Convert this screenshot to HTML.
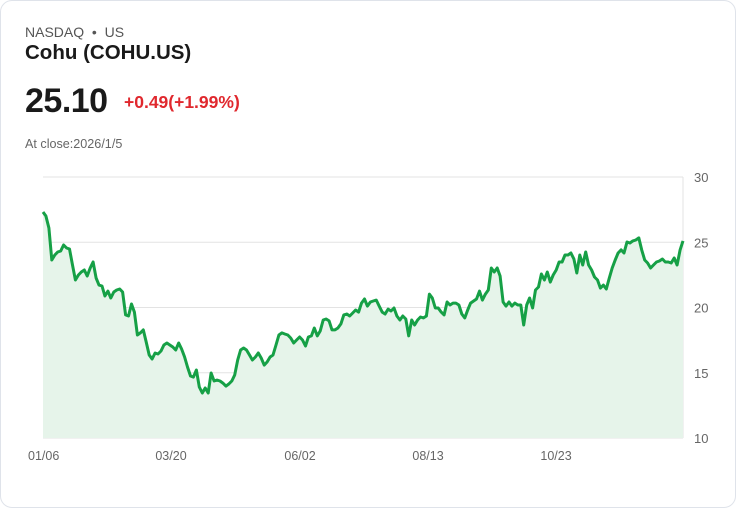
<!DOCTYPE html>
<html><head><meta charset="utf-8"><style>
body{margin:0;background:#fff;font-family:"Liberation Sans",sans-serif;}
.card{position:absolute;left:0;top:0;width:734px;height:506px;border:1px solid #dfe3ea;border-radius:12px;background:#fff;}
.t{position:absolute;white-space:nowrap;}
</style></head><body>
<div class="card">
<div class="t" style="left:24px;top:23px;font-size:14px;color:#555;">NASDAQ &nbsp;•&nbsp; US</div>
<div class="t" style="left:24px;top:40px;font-size:20.5px;font-weight:bold;color:#1a1a1a;">Cohu (COHU.US)</div>
<div class="t" style="left:24px;top:81px;font-size:34px;font-weight:bold;color:#1a1a1a;letter-spacing:-0.5px;">25.10</div>
<div class="t" style="left:123px;top:91px;font-size:17.5px;font-weight:bold;color:#e0282e;">+0.49(+1.99%)</div>
<div class="t" style="left:24px;top:136px;font-size:12.6px;color:#666;">At close:2026/1/5</div>
<svg id="chart" width="736" height="508" style="position:absolute;left:-1px;top:-1px;"></svg>
</div>
<script>
const values=[27.32,27.01,26.09,23.64,24.02,24.25,24.33,24.79,24.56,24.48,23.26,22.11,22.49,22.72,22.87,22.41,23.03,23.49,22.26,21.72,21.65,20.88,21.26,20.73,21.19,21.34,21.42,21.19,19.43,19.35,20.27,19.65,17.89,18.05,18.28,17.36,16.36,16.05,16.51,16.44,16.67,17.13,17.28,17.13,16.97,16.74,17.28,16.82,16.21,15.44,14.75,14.67,15.21,13.91,13.45,13.83,13.45,14.98,14.37,14.44,14.37,14.21,13.98,14.14,14.37,14.83,15.98,16.74,16.90,16.74,16.36,15.98,16.21,16.51,16.13,15.59,15.82,16.21,16.36,17.13,17.89,18.05,17.97,17.89,17.66,17.28,17.51,17.74,17.51,17.05,17.74,17.82,18.43,17.82,18.20,19.04,19.12,18.97,18.28,18.28,18.43,18.74,19.43,19.50,19.35,19.58,19.81,19.65,20.34,20.65,20.11,20.42,20.50,20.57,20.11,19.65,19.50,19.88,19.73,19.96,19.35,19.04,19.35,19.12,17.82,19.04,18.66,19.04,19.27,19.20,19.35,21.03,20.73,19.96,19.96,19.65,19.43,20.42,20.19,20.34,20.34,20.19,19.50,19.20,19.81,20.34,20.50,20.65,21.26,20.57,21.03,21.34,23.03,22.72,23.03,22.41,20.42,20.11,20.42,20.11,20.34,20.19,20.19,18.66,20.19,20.73,19.96,21.34,21.57,22.57,22.11,22.72,21.95,22.49,22.87,23.49,23.49,24.02,24.02,24.18,23.72,22.64,24.02,23.26,24.25,23.26,22.87,22.34,22.11,21.49,21.72,21.42,22.26,23.03,23.64,24.18,24.41,24.18,25.02,24.94,25.10,25.17,25.33,24.41,23.64,23.41,23.03,23.26,23.49,23.56,23.72,23.49,23.49,23.41,23.79,23.26,24.41,25.10];
const yTicks=[10,15,20,25,30];
const xLabels=["01/06","03/20","06/02","08/13","10/23"];
const xLabelFrac=[0,0.2,0.4016,0.6016,0.8016];
const X0=43,X1=683,Y0=438,Y1=177,YMIN=10,YMAX=30;
const xs=i=>X0+(X1-X0)*i/(values.length-1);
const ys=v=>Y0-(v-YMIN)/(YMAX-YMIN)*(Y0-Y1);
const svg=document.getElementById('chart');
const NS='http://www.w3.org/2000/svg';
function mk(t,a){const e=document.createElementNS(NS,t);for(const k in a)e.setAttribute(k,a[k]);svg.appendChild(e);return e;}
yTicks.forEach(v=>{
 const l=mk('line',{x1:X0,x2:X1,y1:ys(v),y2:ys(v),stroke:'#e3e3e3','stroke-width':1});
 
 
 const t=mk('text',{x:694,y:ys(v)+5,'font-size':13,fill:'#666','font-family':'Liberation Sans, sans-serif'});
 t.textContent=v;
 
 
});
const ax=mk('line',{x1:X1,x2:X1,y1:Y1,y2:Y0,stroke:'#e3e3e3','stroke-width':1});


xLabels.forEach((s,k)=>{
 const t=mk('text',{x:k===0?28:xs(xLabelFrac[k]*(values.length-1)),y:460,'font-size':12.5,fill:'#666','text-anchor':k===0?'start':'middle','font-family':'Liberation Sans, sans-serif'});
 t.textContent=s;
 
 
});
let d=values.map((v,i)=>(i?'L':'M')+xs(i).toFixed(1)+' '+ys(v).toFixed(1)).join(' ');
const area=mk('path',{d:d+` L${X1} ${Y0} L${X0} ${Y0} Z`,fill:'#e6f4ea'});


const line=mk('path',{d:d,fill:'none',stroke:'#16a046','stroke-width':3,'stroke-linejoin':'round'});


</script>
</body></html>
